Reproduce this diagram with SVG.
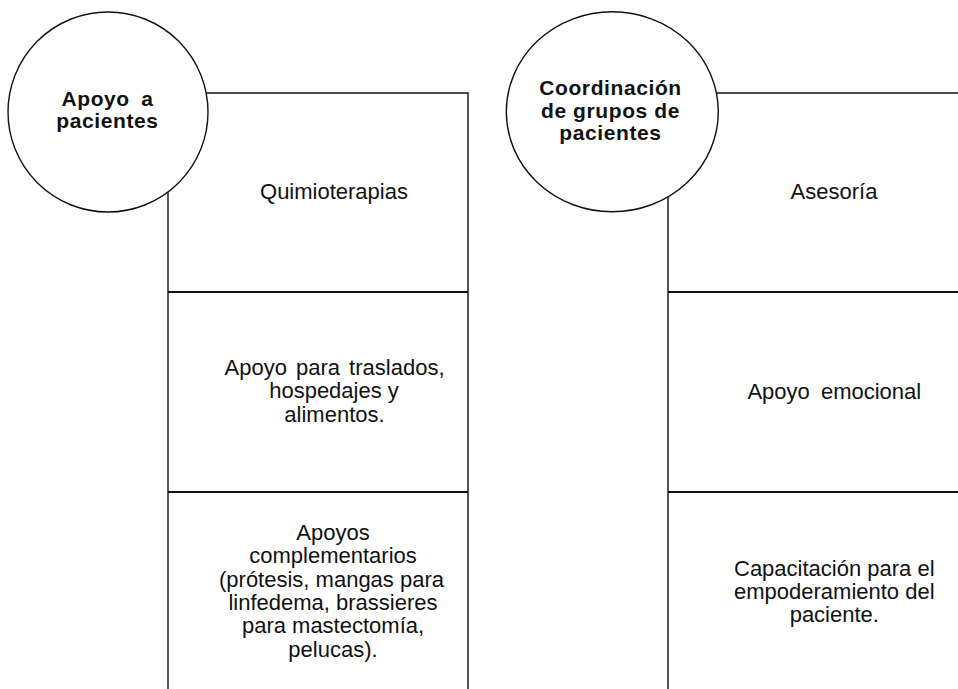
<svg xmlns="http://www.w3.org/2000/svg" width="958" height="689" viewBox="0 0 958 689">
<style>
.div{stroke:#111;stroke-width:2}
.open{fill:none;stroke:#111;stroke-width:1.4}
.circ{fill:#fff;stroke:#111;stroke-width:1.4}
.t{font-family:"Liberation Sans",Arial,sans-serif;font-size:22px;fill:#111;text-anchor:middle}
.h{font-family:"Liberation Sans",Arial,sans-serif;font-size:21px;font-weight:bold;letter-spacing:0.6px;fill:#111;text-anchor:middle}
</style>
<rect width="958" height="689" fill="#fff"/>
<g id="connectors">
<line class="div" x1="168" y1="292" x2="468" y2="292"/>
<line class="div" x1="168" y1="492" x2="468" y2="492"/>
<line class="div" x1="668" y1="292" x2="958" y2="292"/>
<line class="div" x1="668" y1="492" x2="958" y2="492"/>
</g>
<g id="box-quimioterapias">
<path class="open" d="M168,292 V93 H468 V292"/>
<text class="t" x="334" y="199">Quimioterapias</text>
</g>
<g id="box-traslados">
<path class="open" d="M168,292 V492 M468,292 V492"/>
<text class="t" x="334.5" y="375" word-spacing="3">Apoyo para traslados,</text>
<text class="t" x="334" y="398.3">hospedajes y</text>
<text class="t" x="334.5" y="421.7">alimentos.</text>
</g>
<g id="box-complementarios">
<path class="open" d="M168,492 V689 M468,492 V689"/>
<text class="t" x="333" y="540">Apoyos</text>
<text class="t" x="333" y="563.3">complementarios</text>
<text class="t" x="331.5" y="586.7">(prótesis, mangas para</text>
<text class="t" x="333" y="610">linfedema, brassieres</text>
<text class="t" x="333" y="633.3">para mastectomía,</text>
<text class="t" x="333" y="656.7">pelucas).</text>
</g>
<g id="box-asesoria">
<path class="open" d="M668,292 V93 H960"/>
<text class="t" x="834" y="198.5">Asesoría</text>
</g>
<g id="box-emocional">
<path class="open" d="M668,292 V492"/>
<text class="t" x="834.3" y="399" word-spacing="5">Apoyo emocional</text>
</g>
<g id="box-capacitacion">
<path class="open" d="M668,492 V689"/>
<text class="t" x="834.3" y="575.5">Capacitación para el</text>
<text class="t" x="834.3" y="598.8">empoderamiento del</text>
<text class="t" x="834.3" y="622">paciente.</text>
</g>
<g id="node-apoyo-pacientes">
<circle class="circ" cx="108" cy="112" r="100"/>
<text class="h" x="107.5" y="105.5" word-spacing="5">Apoyo a</text>
<text class="h" x="107.5" y="128">pacientes</text>
</g>
<g id="node-coordinacion">
<ellipse class="circ" cx="612.3" cy="111.8" rx="106" ry="100"/>
<text class="h" x="610.5" y="95">Coordinación</text>
<text class="h" x="610.5" y="117.5">de grupos de</text>
<text class="h" x="610.5" y="140">pacientes</text>
</g>
</svg>
